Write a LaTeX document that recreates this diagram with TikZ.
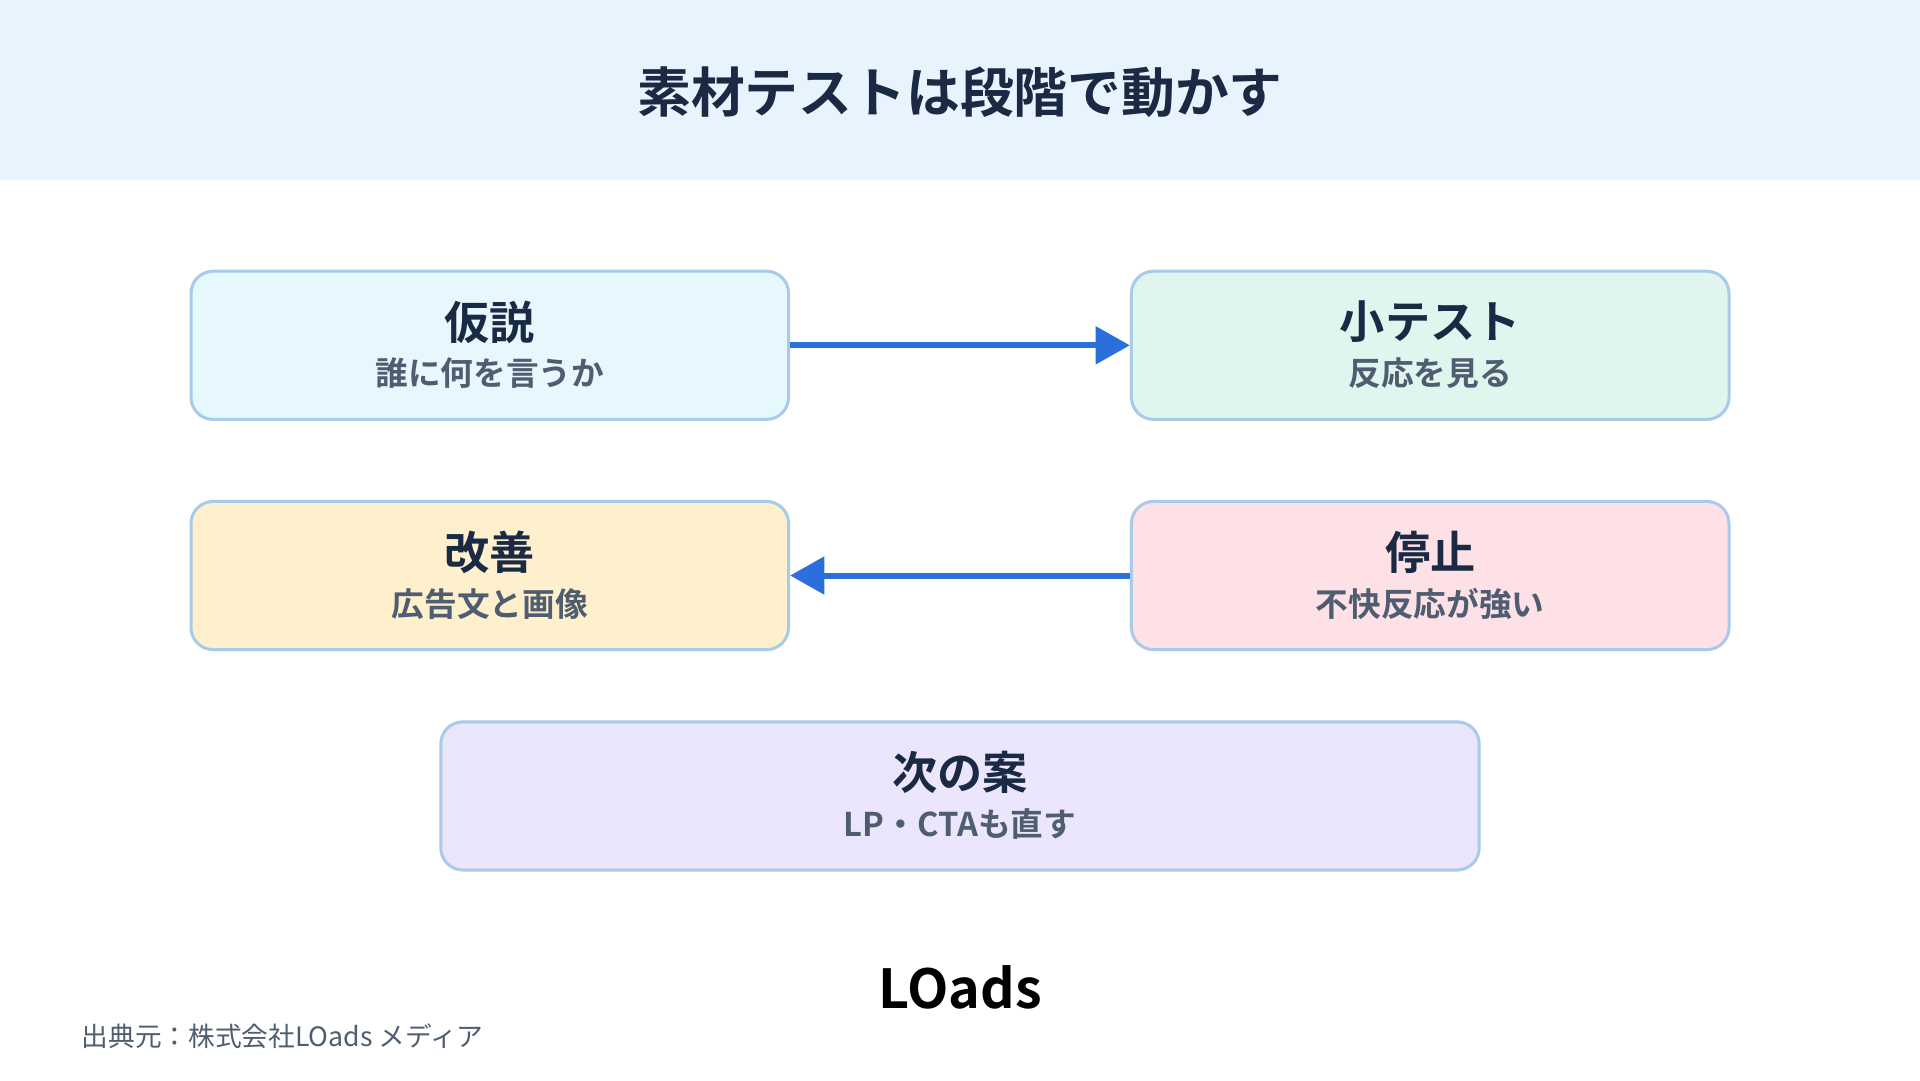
\documentclass[tikz,border=0pt]{standalone}
\usepackage{fontspec}
\setmainfont{Noto Sans CJK JP}
\newfontfamily\jpbold{Noto Sans CJK JP Bold}
\usetikzlibrary{arrows.meta,positioning}
\definecolor{headbg}{HTML}{E8F4FD}
\definecolor{navy}{HTML}{1B2A44}
\definecolor{subgray}{HTML}{4F5D70}
\definecolor{edgeblue}{HTML}{A8CBEA}
\definecolor{arrowblue}{HTML}{2B6FDB}
\definecolor{fillA}{HTML}{E6F7FD}
\definecolor{fillB}{HTML}{E0F5EE}
\definecolor{fillC}{HTML}{FEF0CC}
\definecolor{fillD}{HTML}{FDE1E6}
\definecolor{fillE}{HTML}{ECE6FC}
\begin{document}
\begin{tikzpicture}[x=1cm,y=1cm,
  step box/.style={draw=edgeblue,line width=0.7pt,rounded corners=0.18cm,
    minimum width=4.88cm,minimum height=1.21cm,inner sep=0pt},
  step title/.style={font=\jpbold\fontsize{10.5pt}{12pt}\selectfont,text=navy},
  step sub/.style={font=\jpbold\fontsize{7.6pt}{9pt}\selectfont,text=subgray},
  flow/.style={arrowblue,line width=1.4pt,-{Triangle[length=0.28cm,width=0.3cm]}}]

  \useasboundingbox (0,0) rectangle (15.68,8.82);
  \fill[headbg] (0,7.35) rectangle (15.68,8.82);
  \node[font=\jpbold\fontsize{12.5pt}{14pt}\selectfont,text=navy] (title) at (7.84,8.07) {素材テストは段階で動かす};

  % steps
  \node[step box,fill=fillA] (hyp) at (4.00,6.00) {};
  \node[step box,fill=fillB] (test) at (11.68,6.00) {};
  \node[step box,fill=fillC] (imp) at (4.00,4.12) {};
  \node[step box,fill=fillD] (stop) at (11.68,4.12) {};
  \node[step box,fill=fillE,minimum width=8.48cm] (next) at (7.84,2.32) {};

  \node[step title] at ([yshift=0.19cm]hyp.center) {仮説};
  \node[step sub] at ([yshift=-0.23cm]hyp.center) {誰に何を言うか};
  \node[step title] at ([yshift=0.19cm]test.center) {小テスト};
  \node[step sub] at ([yshift=-0.23cm]test.center) {反応を見る};
  \node[step title] at ([yshift=0.19cm]imp.center) {改善};
  \node[step sub] at ([yshift=-0.23cm]imp.center) {広告文と画像};
  \node[step title] at ([yshift=0.19cm]stop.center) {停止};
  \node[step sub] at ([yshift=-0.23cm]stop.center) {不快反応が強い};
  \node[step title] at ([yshift=0.19cm]next.center) {次の案};
  \node[step sub] at ([yshift=-0.23cm]next.center) {LP・CTAも直す};

  \draw[flow] (hyp.east) -- (test.west);
  \draw[flow] (stop.west) -- (imp.east);

  % footer
  \node[font=\jpbold\fontsize{12.5pt}{14pt}\selectfont,text=black] (logo) at (7.84,0.76) {LOads};
  \node[anchor=west,inner sep=0pt,font=\fontsize{6.2pt}{7pt}\selectfont,text=subgray] (source) at (0.66,0.36) {出典元：株式会社LOads メディア};
\end{tikzpicture}
\end{document}
